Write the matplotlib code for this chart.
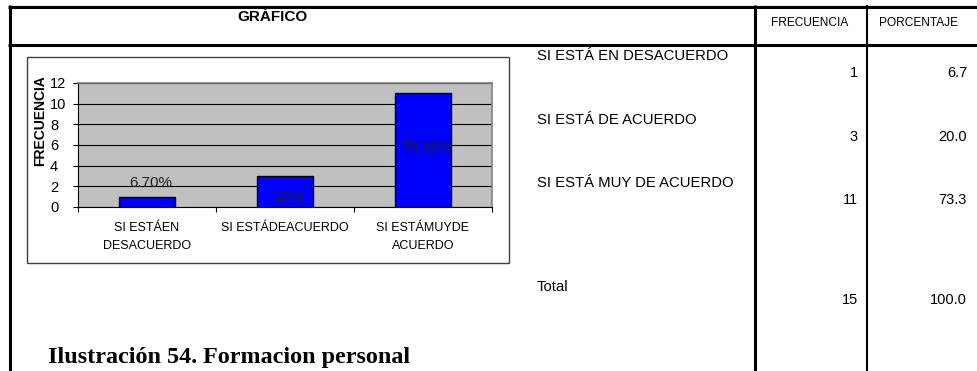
import numpy as np
import matplotlib
matplotlib.use("Agg")
import matplotlib.pyplot as plt
from matplotlib.patches import Rectangle
from matplotlib.lines import Line2D

plt.rcParams['font.family'] = ['Liberation Sans', 'DejaVu Sans']

# datos de la tabla
categorias = ["SI ESTÁ EN DESACUERDO", "SI ESTÁ DE ACUERDO", "SI ESTÁ MUY DE ACUERDO"]
etiquetas_eje = ["SI ESTÁEN\nDESACUERDO", "SI ESTÁDEACUERDO", "SI ESTÁMUYDE\nACUERDO"]
frecuencia = [1, 3, 11]
porcentaje = [6.7, 20.0, 73.3]
etiquetas_barra = ["6.70%", "20%", "73.30%"]
total_frecuencia = 15
total_porcentaje = 100.0

W, H = 977, 371
fig = plt.figure(figsize=(W / 100, H / 100), dpi=100)
fig.patch.set_facecolor('white')


def fx(x):
    return x / W


def fy(y):
    return 1 - y / H


def linea(x0, y0, x1, y1, lw):
    fig.add_artist(Line2D([fx(x0), fx(x1)], [fy(y0), fy(y1)], color='black',
                          lw=lw, transform=fig.transFigure, solid_capstyle='butt'))


# marco de la tabla
linea(8, 6.5, 977, 6.5, 2.2)
linea(9.5, 5, 9.5, 371, 2.2)
linea(8, 44.5, 977, 44.5, 2.2)
linea(754.5, 5, 754.5, 371, 2.2)
linea(867, 5, 867, 371, 1.5)

# encabezados
fig.text(fx(272), fy(17), "GRÁFICO", ha='center', va='center', fontsize=11, fontweight='bold')
fig.text(fx(810), fy(23), "FRECUENCIA", ha='center', va='center', fontsize=8.6)
fig.text(fx(918), fy(23), "PORCENTAJE", ha='center', va='center', fontsize=8.6)

# filas
y_etiqueta = [56, 120, 183]
y_valor = [73, 137, 200]
for i in range(len(categorias)):
    fig.text(fx(537), fy(y_etiqueta[i]), categorias[i], ha='left', va='center', fontsize=10.7)
    fig.text(fx(858), fy(y_valor[i]), str(frecuencia[i]), ha='right', va='center', fontsize=10.5)
    fig.text(fx(967), fy(y_valor[i]), "%.1f" % porcentaje[i], ha='right', va='center', fontsize=10.5)
fig.text(fx(537), fy(287), "Total", ha='left', va='center', fontsize=10.7)
fig.text(fx(858), fy(300), str(total_frecuencia), ha='right', va='center', fontsize=10.5)
fig.text(fx(967), fy(300), "%.1f" % total_porcentaje, ha='right', va='center', fontsize=10.5)

# pie de figura
fig.text(fx(48), fy(357), "Ilustración 54. Formacion personal", ha='left', va='center',
         fontsize=17.4, fontweight='bold', family='Liberation Serif')

# recuadro del gráfico
fig.add_artist(Rectangle((fx(27), fy(263)), fx(509) - fx(27), fy(57) - fy(263),
                         transform=fig.transFigure, fill=False, edgecolor='#404040', lw=1))

# área de trazado
ax = fig.add_axes([fx(78), fy(207), fx(492) - fx(78), fy(83) - fy(207)])
ax.set_facecolor('#C0C0C0')
x = np.arange(len(frecuencia))
ax.bar(x, frecuencia, width=0.4, color='#0000FF', edgecolor='black', lw=1, zorder=3)
ax.set_xlim(-0.5, len(frecuencia) - 0.5)
ax.set_ylim(0, 12)
ax.set_yticks(np.arange(0, 13, 2))
ax.yaxis.grid(True, color='black', lw=0.8, zorder=1)
ax.set_axisbelow(True)

for s in ['top', 'right']:
    ax.spines[s].set_color('#808080')
    ax.spines[s].set_linewidth(1.2)
for s in ['left', 'bottom']:
    ax.spines[s].set_color('black')
    ax.spines[s].set_linewidth(0.8)

ax.tick_params(axis='y', direction='out', length=3.6, width=0.8, pad=16.5, labelsize=10.5)
for t in ax.get_yticklabels():
    t.set_ha('left')

ax.set_xticks(x)
ax.set_xticklabels(etiquetas_eje, fontsize=9, linespacing=1.6)
ax.set_xticks(np.arange(-0.5, len(frecuencia)), minor=True)
ax.tick_params(axis='x', which='major', length=0, pad=11)
ax.tick_params(axis='x', which='minor', direction='out', length=3.6, width=0.8)

# etiquetas de datos
pos_etiqueta = [2.3, 1.0, 5.7]
for i in range(len(frecuencia)):
    ax.text(x[i] + 0.03, pos_etiqueta[i], etiquetas_barra[i], ha='center', va='center',
            fontsize=11, color='#202020', zorder=4)

fig.text(fx(40), fy(121), "FRECUENCIA", rotation=90, ha='center', va='center',
         fontsize=10, fontweight='heavy')

fig.savefig('out.png', dpi=100)
